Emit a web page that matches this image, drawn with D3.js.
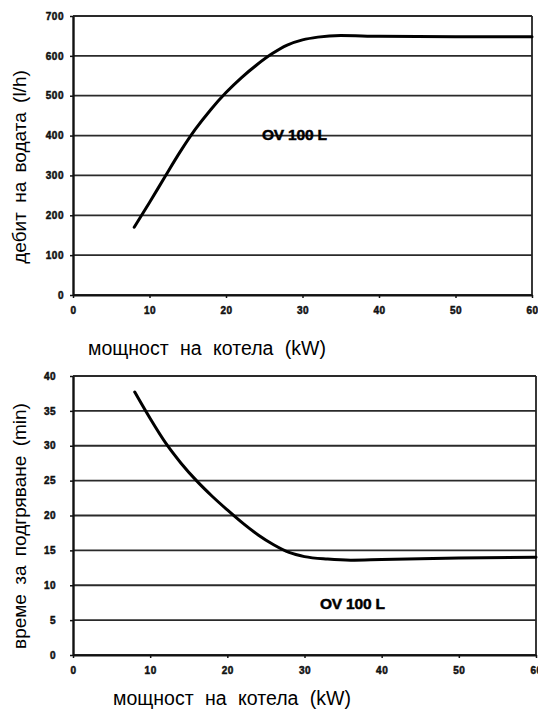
<!DOCTYPE html>
<html><head><meta charset="utf-8">
<script src="https://cdn.jsdelivr.net/npm/d3@7"></script>
<style>
body{margin:0;background:#fff;}
text{font-family:"Liberation Sans",Arial,sans-serif;}
</style></head>
<body>
<svg id="c" width="538" height="710"></svg>
<script>
// ---- data ----
const xTicks = [0, 10, 20, 30, 40, 50, 60];
const topYTicks = [0, 100, 200, 300, 400, 500, 600, 700];
const bottomYTicks = [0, 5, 10, 15, 20, 25, 30, 35, 40];

const flowPower = [8, 10, 12, 14, 16, 18, 20, 22, 24, 26, 28, 30, 32, 35, 40, 50, 60];
const flowValues = [170, 232, 296, 359, 416, 465, 508, 545, 577, 605, 627, 640, 647, 651, 649, 648, 648];

const heatPower = [8, 10, 12, 14, 16, 18, 20, 22, 24, 26, 28, 30, 33, 36, 40, 50, 60];
const heatValues = [37.7, 33.9, 30.4, 27.5, 25.0, 22.8, 20.8, 18.9, 17.2, 15.8, 14.7, 14.1, 13.75, 13.6, 13.7, 13.9, 14.0];

const seriesLabel = "OV 100 L";
const xTitle = "мощност на котела (kW)";
const topYTitle = "дебит на водата (l/h)";
const bottomYTitle = "време за подгряване (min)";

const svg = d3.select("#c");

function panel(cfg){
  const g = svg.append("g");
  const x = d3.scaleLinear().domain([0, 60]).range([cfg.x0, cfg.x1]);
  const y = d3.scaleLinear().domain(cfg.yDomain).range([cfg.y0, cfg.y1]);

  // gridlines
  g.append("g").selectAll("line").data(cfg.yTicks).join("line")
    .attr("x1", cfg.x0).attr("x2", cfg.x1)
    .attr("y1", d => y(d)).attr("y2", d => y(d))
    .attr("stroke", "#2a2a2a").attr("stroke-width", 1.8);

  // right border
  g.append("line").attr("x1", cfg.x1).attr("x2", cfg.x1)
    .attr("y1", cfg.y1).attr("y2", cfg.y0)
    .attr("stroke", "#222").attr("stroke-width", 1.8);

  const styleTicks = sel => sel.attr("font-size", 10).attr("font-weight", "bold")
    .attr("letter-spacing", 0.5).attr("fill", "#111")
    .attr("stroke", "#111").attr("stroke-width", 0.5);

  // x axis
  const xa = g.append("g").attr("transform", `translate(0,${cfg.y0})`)
    .call(d3.axisBottom(x).tickValues(xTicks).tickSize(3).tickPadding(9).tickSizeOuter(0));
  xa.select(".domain").attr("stroke", "#111").attr("stroke-width", 2);
  xa.selectAll(".tick line").attr("stroke", "#111").attr("stroke-width", 1.5);
  styleTicks(xa.selectAll("text"));

  // y axis
  const ya = g.append("g").attr("transform", `translate(${cfg.x0},0)`)
    .call(d3.axisLeft(y).tickValues(cfg.yTicks).tickSize(3).tickPadding(cfg.yPad).tickSizeOuter(0));
  ya.select(".domain").attr("stroke", "#111").attr("stroke-width", 2.4);
  ya.selectAll(".tick line").attr("stroke", "#111").attr("stroke-width", 1.5);
  styleTicks(ya.selectAll("text"));

  // curve
  const line = d3.line().x(d => x(d[0])).y(d => y(d[1])).curve(d3.curveMonotoneX);
  g.append("path").datum(d3.zip(cfg.px, cfg.py))
    .attr("d", line).attr("fill", "none")
    .attr("stroke", "#000").attr("stroke-width", 3).attr("stroke-linecap", "round");

  // series label
  g.append("text").attr("x", cfg.lx).attr("y", cfg.ly)
    .attr("font-size", 15.5).attr("font-weight", "bold").attr("letter-spacing", -0.2)
    .attr("stroke", "#000").attr("stroke-width", 0.5)
    .attr("dominant-baseline", "middle").attr("fill", "#000")
    .text(seriesLabel);

  // axis titles
  g.append("text").attr("x", cfg.xtX).attr("y", cfg.xtY)
    .attr("text-anchor", "middle").attr("font-size", 19.5).attr("fill", "#000")
    .attr("word-spacing", 6)
    .text(xTitle);
  g.append("text").attr("transform", `translate(${cfg.ytX},${cfg.ytY}) rotate(-90)`)
    .attr("text-anchor", "middle").attr("font-size", 19).attr("fill", "#000")
    .attr("word-spacing", 4)
    .text(cfg.yTitle);
}

panel({x0: 73, x1: 532, y0: 295, y1: 16, yDomain: [0, 700], yTicks: topYTicks, yPad: 6,
  px: flowPower, py: flowValues, lx: 262, ly: 136,
  xtX: 207, xtY: 355, ytX: 26, ytY: 167, yTitle: topYTitle});

panel({x0: 73, x1: 536, y0: 655, y1: 376, yDomain: [0, 40], yTicks: bottomYTicks, yPad: 14,
  px: heatPower, py: heatValues, lx: 320, ly: 605,
  xtX: 232, xtY: 705, ytX: 26, ytY: 526, yTitle: bottomYTitle});
</script>
</body></html>
